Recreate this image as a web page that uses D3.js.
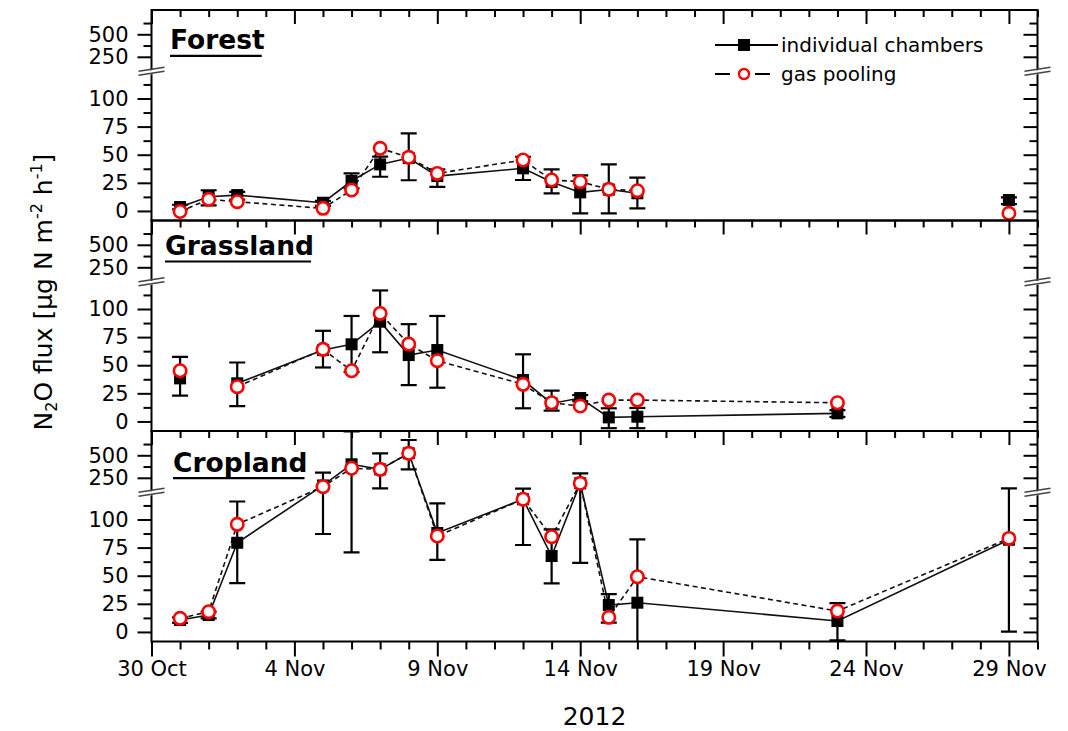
<!DOCTYPE html>
<html>
<head>
<meta charset="utf-8">
<script src="https://cdn.jsdelivr.net/npm/d3@7"></script>
<style>
  body { margin: 0; background: #fff; }
  svg { display: block; }
  text { font-family: "DejaVu Sans", sans-serif; fill: #000; }
</style>
</head>
<body>
<svg id="chart" width="1068" height="731"></svg>
<script>
// Sampling days (2012)
const sampleDates = ["2012-10-31","2012-11-01","2012-11-02","2012-11-05","2012-11-06","2012-11-07",
  "2012-11-08","2012-11-09","2012-11-12","2012-11-13","2012-11-14","2012-11-15","2012-11-16",
  "2012-11-23","2012-11-29"];

// N2O flux, µg N m-2 h-1 (null = no measurement)
const forestChambers = [3.5, 12.6, 14.1, 7.3, 26.6, 41.4, 47, 31, 37.9, 25.7, 16.5, 19, 15.7, null, 9.7];
const forestPooling  = [-0.5, 10.3, 8.2, 2.3, 18.6, 55.7, 47.7, 33.4, 45.3, 27.5, 26, 19.2, 18, null, -2.1];
const forestErrLow   = [1.5, 5, 10, 4.5, 20, 30.4, 27.3, 21.4, 27.5, 15.7, -2.2, -2.2, 2.3, null, 6];
const forestErrHigh  = [5.5, 18.4, 17, 9, 33.4, 48.3, 69, 37, 48.2, 37, 31.7, 41.4, 29.6, null, 12];

const grassChambers = [38.3, null, 33.9, 63.5, 68.6, 88.7, 59, 63.5, 36.8, 16, 20.8, 3.6, 4.2, 7.2, null];
const grassPooling  = [45.1, null, 30.9, 64.1, 45.1, 96.1, 68.8, 54, 33, 16.6, 13.7, 19, 19, 16.6, null];
const grassErrLow   = [23, null, 13.6, 48, 44, 61.5, 32.3, 30, 11.7, 9.6, 18, -6, -6, 4, null];
const grassErrHigh  = [57.5, null, 52.4, 80.6, 93.8, 116.5, 86.5, 93.8, 59.7, 27.4, 23.5, 11.7, 12, 10, null];

const cropChambers = [10.6, 15, 79.3, 165, 400, 344, 522, 88, 118, 67.5, 189, 23.9, 26, 9.7, 82];
const cropPooling  = [12.1, 18, 95.7, 151, 356, 344, 522, 85.3, 118, 84.7, 189, 13, 49.1, 18.6, 83.2];
const cropErrLow   = [8, 12, 43.4, 87.1, 70.8, 133, 344, 64, 77.3, 43.2, 61.5, 8.2, -30, -7.5, 0.2];
const cropErrHigh  = [13, 18, 116, 306.7, 765, 522, 670, 114.3, 130, 91.2, 300, 33.7, 82.3, 25.7, 133];

const panelNames = ["Forest", "Grassland", "Cropland"];
const seriesNames = ["individual chambers", "gas pooling"];

// Broken y axis: lower and upper segments
const lowerTicks = [0, 25, 50, 75, 100];
const lowerMinor = [12.5, 37.5, 62.5, 87.5, 112.5];
const upperTicks = [250, 500];
const upperMinor = [375, 625];

// ---- layout ----
const plotLeft = 151.5, plotRight = 1037.5, plotTop = 10, panelH = 210.5;
const labelPos = [{x: 170, y: 39.3}, {x: 165, y: 34.5}, {x: 173, y: 40.7}];
const FONT = "DejaVu Sans";

const svg = d3.select("#chart");
const parse = d3.timeParse("%Y-%m-%d");
const dates = sampleDates.map(parse);

const x = d3.scaleTime()
  .domain([parse("2012-10-30"), parse("2012-11-30")])
  .range([plotLeft, plotRight]);

const majorDays = d3.range(0, 31, 5).map(k => d3.timeDay.offset(parse("2012-10-30"), k));
const minorDays = d3.range(0, 32).map(k => d3.timeDay.offset(parse("2012-10-30"), k))
  .filter(d => !majorDays.some(m => +m === +d));

const panels = [
  {chambers: forestChambers, pooling: forestPooling, lo: forestErrLow, hi: forestErrHigh},
  {chambers: grassChambers, pooling: grassPooling, lo: grassErrLow, hi: grassErrHigh},
  {chambers: cropChambers, pooling: cropPooling, lo: cropErrLow, hi: cropErrHigh}
];

function styleAxis(sel) {
  sel.select(".domain").remove();
  sel.attr("font-family", FONT).attr("font-size", 21);
  sel.selectAll(".tick line").attr("stroke", "#000").attr("stroke-width", 2);
  sel.selectAll("text").attr("fill", "#000");
}

function drawBreak(cx, cy) {
  const g = svg.append("g");
  g.append("path")
    .attr("d", `M${cx - 13},${cy + 1} L${cx + 13},${cy - 5} L${cx + 13},${cy - 1} L${cx - 13},${cy + 5} Z`)
    .attr("fill", "#fff");
  [0, 4].forEach(o => {
    g.append("line")
      .attr("x1", cx - 13).attr("y1", cy - 1 + o)
      .attr("x2", cx + 13).attr("y2", cy - 5 + o)
      .attr("stroke", "#444").attr("stroke-width", 1.6);
  });
}

panels.forEach((p, i) => {
  const top = plotTop + i * panelH, bottom = top + panelH;
  const lower = d3.scaleLinear().domain([-8.5, 120]).range([bottom, top + 66]);
  const upper = d3.scaleLinear().domain([120, 770]).range([top + 58.5, top]);
  const y = v => (v <= 120 ? lower(v) : upper(v));

  const clipId = "clip" + i;
  svg.append("clipPath").attr("id", clipId)
    .append("rect").attr("x", plotLeft).attr("y", top)
    .attr("width", plotRight - plotLeft).attr("height", panelH);

  // left axis (outward ticks with labels)
  svg.append("g").attr("transform", `translate(${plotLeft},0)`)
    .call(d3.axisLeft(lower).tickValues(lowerTicks).tickSize(14).tickPadding(9)).call(styleAxis);
  svg.append("g").attr("transform", `translate(${plotLeft},0)`)
    .call(d3.axisLeft(lower).tickValues(lowerMinor).tickSize(8).tickFormat("")).call(styleAxis);
  svg.append("g").attr("transform", `translate(${plotLeft},0)`)
    .call(d3.axisLeft(upper).tickValues(upperTicks).tickSize(14).tickPadding(9)).call(styleAxis);
  svg.append("g").attr("transform", `translate(${plotLeft},0)`)
    .call(d3.axisLeft(upper).tickValues(upperMinor).tickSize(8).tickFormat("")).call(styleAxis);

  // right axis (inward ticks)
  [[lower, lowerTicks, 14], [lower, lowerMinor, 8], [upper, upperTicks, 14], [upper, upperMinor, 8]]
    .forEach(([sc, tv, len]) => {
      svg.append("g").attr("transform", `translate(${plotRight},0)`)
        .call(d3.axisLeft(sc).tickValues(tv).tickSize(len).tickFormat("")).call(styleAxis);
    });

  // top axis (inward ticks)
  svg.append("g").attr("transform", `translate(0,${top})`)
    .call(d3.axisBottom(x).tickValues(majorDays).tickSize(14).tickFormat("")).call(styleAxis);
  svg.append("g").attr("transform", `translate(0,${top})`)
    .call(d3.axisBottom(x).tickValues(minorDays).tickSize(7).tickFormat("")).call(styleAxis);

  if (i === panels.length - 1) {
    svg.append("g").attr("transform", `translate(0,${bottom})`)
      .call(d3.axisBottom(x).tickValues(majorDays).tickSize(15).tickPadding(5)
        .tickFormat(d3.timeFormat("%-d %b"))).call(styleAxis);
    svg.append("g").attr("transform", `translate(0,${bottom})`)
      .call(d3.axisBottom(x).tickValues(minorDays).tickSize(8).tickFormat("")).call(styleAxis);
  }

  // frame
  svg.append("rect")
    .attr("x", plotLeft).attr("y", top)
    .attr("width", plotRight - plotLeft).attr("height", panelH)
    .attr("fill", "none").attr("stroke", "#000").attr("stroke-width", 2);

  // axis breaks
  drawBreak(plotLeft, top + 62.3);
  drawBreak(plotRight, top + 62.3);

  const rows = dates.map((d, k) => ({
    date: d, ch: p.chambers[k], po: p.pooling[k], lo: p.lo[k], hi: p.hi[k]
  }));

  const data = svg.append("g").attr("clip-path", `url(#${clipId})`);

  const lineCh = d3.line().defined(d => d.ch != null).x(d => x(d.date)).y(d => y(d.ch));
  const linePo = d3.line().defined(d => d.po != null).x(d => x(d.date)).y(d => y(d.po));

  data.append("path").attr("d", linePo(rows))
    .attr("fill", "none").attr("stroke", "#111").attr("stroke-width", 1.6)
    .attr("stroke-dasharray", "5,3.5");
  data.append("path").attr("d", lineCh(rows))
    .attr("fill", "none").attr("stroke", "#111").attr("stroke-width", 1.6);

  // error bars
  const eb = data.selectAll("g.err").data(rows.filter(d => d.lo != null)).join("g").attr("class", "err")
    .attr("stroke", "#000").attr("stroke-width", 2.2);
  eb.append("line")
    .attr("x1", d => x(d.date)).attr("x2", d => x(d.date))
    .attr("y1", d => y(d.lo)).attr("y2", d => y(d.hi));
  ["lo", "hi"].forEach(k => {
    eb.append("line")
      .attr("x1", d => x(d.date) - 8).attr("x2", d => x(d.date) + 8)
      .attr("y1", d => y(d[k])).attr("y2", d => y(d[k]));
  });

  // markers
  svg.append("g").selectAll("rect").data(rows.filter(d => d.ch != null)).join("rect")
    .attr("x", d => x(d.date) - 6).attr("y", d => y(d.ch) - 6)
    .attr("width", 12).attr("height", 12).attr("fill", "#000");
  svg.append("g").selectAll("circle").data(rows.filter(d => d.po != null)).join("circle")
    .attr("cx", d => x(d.date)).attr("cy", d => y(d.po)).attr("r", 6.2)
    .attr("fill", "#fff").attr("stroke", "#f00").attr("stroke-width", 2.6);

  // panel title, underlined
  const t = svg.append("text")
    .attr("x", labelPos[i].x).attr("y", top + labelPos[i].y)
    .attr("font-family", FONT).attr("font-weight", "bold").attr("font-size", 26.5)
    .text(panelNames[i]);
  const tw = t.node().getComputedTextLength();
  svg.append("line")
    .attr("x1", labelPos[i].x).attr("x2", labelPos[i].x + tw - 3)
    .attr("y1", top + labelPos[i].y + 6.5).attr("y2", top + labelPos[i].y + 6.5)
    .attr("stroke", "#000").attr("stroke-width", 2.2);
});

// legend
const lg = svg.append("g");
[0, 1].forEach(k => {
  const ly = 45 + k * 29;
  lg.append("line").attr("x1", 715).attr("x2", k === 0 ? 778 : 771)
    .attr("y1", ly).attr("y2", ly)
    .attr("stroke", "#000").attr("stroke-width", 2)
    .attr("stroke-dasharray", k === 0 ? null : "15,25");
  if (k === 0) {
    lg.append("rect").attr("x", 738).attr("y", ly - 6).attr("width", 12).attr("height", 12).attr("fill", "#000");
  } else {
    lg.append("circle").attr("cx", 744).attr("cy", ly).attr("r", 5)
      .attr("fill", "#fff").attr("stroke", "#f00").attr("stroke-width", 2.4);
  }
  lg.append("text").attr("x", 781).attr("y", ly + 7)
    .attr("font-family", FONT).attr("font-size", 20).text(seriesNames[k]);
});

// axis titles
svg.append("text")
  .attr("x", (plotLeft + plotRight) / 2).attr("y", 725)
  .attr("text-anchor", "middle").attr("font-family", FONT).attr("font-size", 25)
  .text("2012");

const yt = svg.append("text")
  .attr("transform", "translate(52,292) rotate(-90)")
  .attr("text-anchor", "middle").attr("font-family", FONT).attr("font-size", 25);
yt.append("tspan").text("N");
yt.append("tspan").attr("font-size", 16).attr("dy", 5).text("2");
yt.append("tspan").attr("dy", -5).text("O flux [µg N m");
yt.append("tspan").attr("font-size", 16).attr("dy", -10).text("-2");
yt.append("tspan").attr("dy", 10).text(" h");
yt.append("tspan").attr("font-size", 16).attr("dy", -10).text("-1");
yt.append("tspan").attr("dy", 10).text("]");
</script>
</body>
</html>
